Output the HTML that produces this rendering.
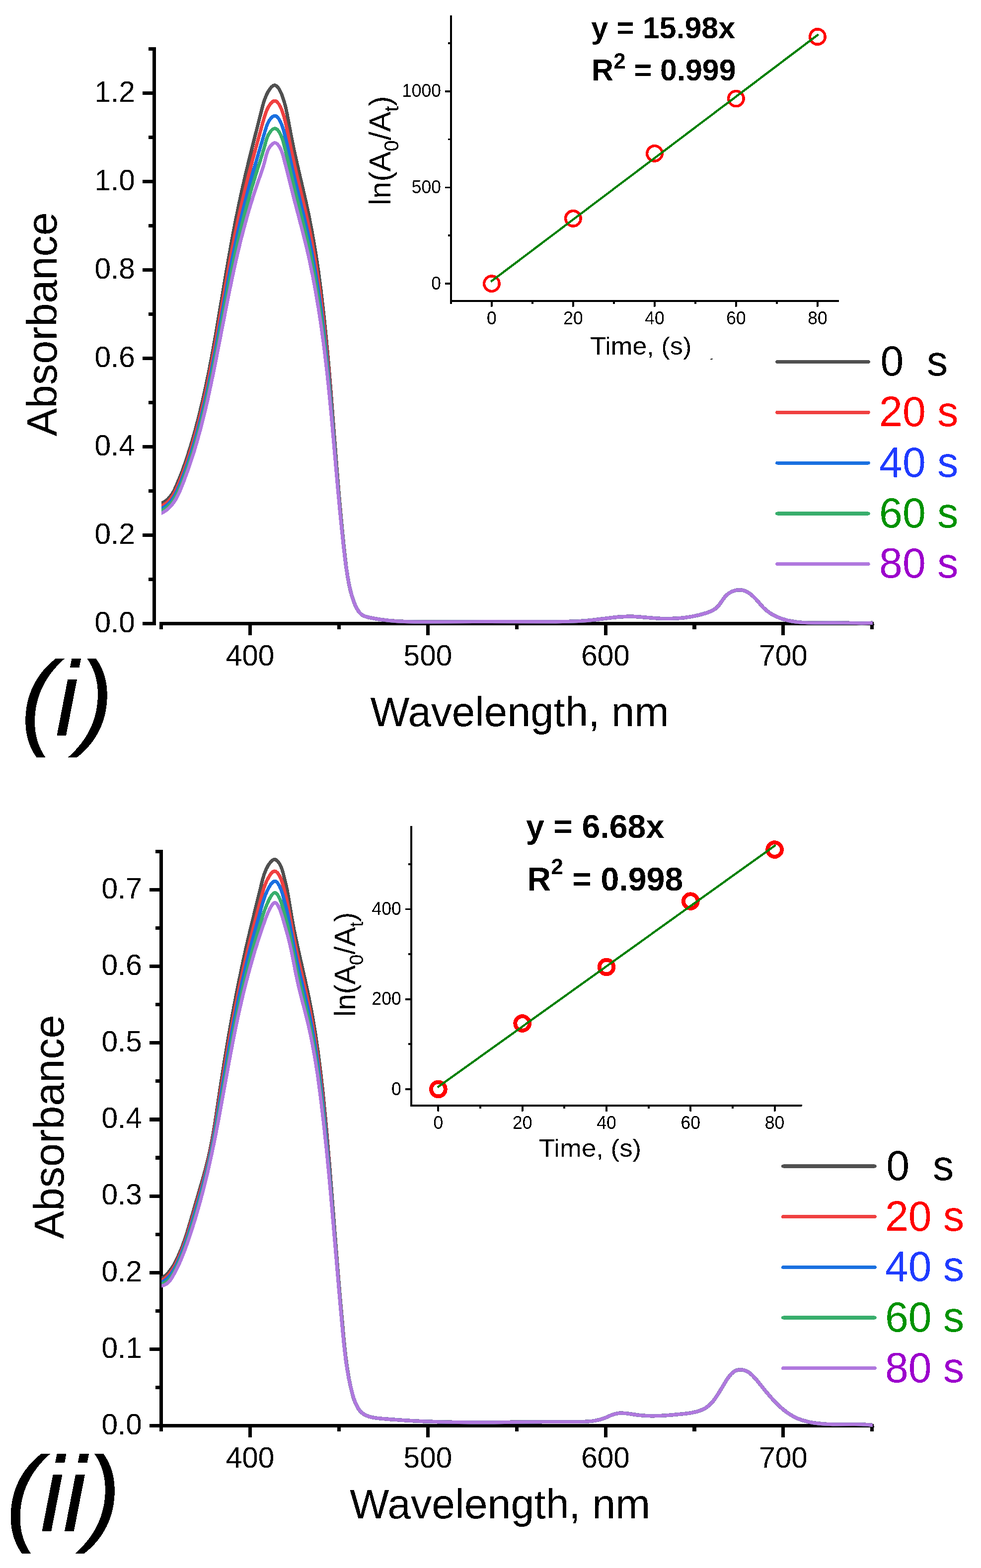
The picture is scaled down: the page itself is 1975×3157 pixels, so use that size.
<!DOCTYPE html><html><head><meta charset="utf-8"><title>Absorbance kinetics</title><style>html,body{margin:0;padding:0;background:#fff;}svg{display:block;}</style></head><body><svg xmlns="http://www.w3.org/2000/svg" width="1975" height="3157" viewBox="0 0 1975 3157" font-family="'Liberation Sans', Arial, Helvetica, sans-serif">
<rect x="0" y="0" width="1975" height="3157" fill="#fff"/>
<defs><filter id="aa" x="0" y="0" width="1975" height="3157" filterUnits="userSpaceOnUse" color-interpolation-filters="sRGB"><feComponentTransfer><feFuncA type="discrete" tableValues="0 1"/></feComponentTransfer></filter></defs>
<g filter="url(#aa)">
<rect x="307.1" y="95.1" width="7.0" height="1163.9" fill="#000"/>
<rect x="287.1" y="1252.0" width="23.5" height="7.0" fill="#000"/>
<text x="271.8" y="1272.8" font-size="58.5" text-anchor="end" font-weight="normal" font-style="normal" fill="#000" xml:space="preserve" >0.0</text>
<rect x="287.1" y="1074.0" width="23.5" height="7.0" fill="#000"/>
<text x="271.8" y="1094.8" font-size="58.5" text-anchor="end" font-weight="normal" font-style="normal" fill="#000" xml:space="preserve" >0.2</text>
<rect x="287.1" y="896.0" width="23.5" height="7.0" fill="#000"/>
<text x="271.8" y="916.8" font-size="58.5" text-anchor="end" font-weight="normal" font-style="normal" fill="#000" xml:space="preserve" >0.4</text>
<rect x="287.1" y="718.1" width="23.5" height="7.0" fill="#000"/>
<text x="271.8" y="738.9" font-size="58.5" text-anchor="end" font-weight="normal" font-style="normal" fill="#000" xml:space="preserve" >0.6</text>
<rect x="287.1" y="540.1" width="23.5" height="7.0" fill="#000"/>
<text x="271.8" y="560.9" font-size="58.5" text-anchor="end" font-weight="normal" font-style="normal" fill="#000" xml:space="preserve" >0.8</text>
<rect x="287.1" y="362.1" width="23.5" height="7.0" fill="#000"/>
<text x="271.8" y="382.9" font-size="58.5" text-anchor="end" font-weight="normal" font-style="normal" fill="#000" xml:space="preserve" >1.0</text>
<rect x="287.1" y="184.1" width="23.5" height="7.0" fill="#000"/>
<text x="271.8" y="204.9" font-size="58.5" text-anchor="end" font-weight="normal" font-style="normal" fill="#000" xml:space="preserve" >1.2</text>
<rect x="299.1" y="1163.0" width="11.5" height="7.0" fill="#000"/>
<rect x="299.1" y="985.0" width="11.5" height="7.0" fill="#000"/>
<rect x="299.1" y="807.0" width="11.5" height="7.0" fill="#000"/>
<rect x="299.1" y="629.1" width="11.5" height="7.0" fill="#000"/>
<rect x="299.1" y="451.1" width="11.5" height="7.0" fill="#000"/>
<rect x="299.1" y="273.1" width="11.5" height="7.0" fill="#000"/>
<rect x="299.1" y="95.1" width="11.5" height="7.0" fill="#000"/>
<rect x="321.1" y="1252.0" width="1438.2" height="7.0" fill="#000"/>
<rect x="500.1" y="1255.5" width="7.0" height="23.5" fill="#000"/>
<text x="503.6" y="1340.2" font-size="58.5" text-anchor="middle" font-weight="normal" font-style="normal" fill="#000" xml:space="preserve" >400</text>
<rect x="857.9" y="1255.5" width="7.0" height="23.5" fill="#000"/>
<text x="861.4" y="1340.2" font-size="58.5" text-anchor="middle" font-weight="normal" font-style="normal" fill="#000" xml:space="preserve" >500</text>
<rect x="1215.6" y="1255.5" width="7.0" height="23.5" fill="#000"/>
<text x="1219.1" y="1340.2" font-size="58.5" text-anchor="middle" font-weight="normal" font-style="normal" fill="#000" xml:space="preserve" >600</text>
<rect x="1573.4" y="1255.5" width="7.0" height="23.5" fill="#000"/>
<text x="1576.9" y="1340.2" font-size="58.5" text-anchor="middle" font-weight="normal" font-style="normal" fill="#000" xml:space="preserve" >700</text>
<rect x="321.1" y="1255.5" width="7.2" height="11.5" fill="#000"/>
<rect x="678.9" y="1255.5" width="7.2" height="11.5" fill="#000"/>
<rect x="1036.6" y="1255.5" width="7.2" height="11.5" fill="#000"/>
<rect x="1394.4" y="1255.5" width="7.2" height="11.5" fill="#000"/>
<rect x="1752.2" y="1255.5" width="7.2" height="11.5" fill="#000"/>
<clipPath id="cp1"><rect x="325.2" y="100" width="1431.8" height="1200"/></clipPath>
<g clip-path="url(#cp1)">
<path d="M319.5 1015.4L327.2 1012.1L330.3 1010.5L334.1 1008.1L337.7 1005.2L341.3 1001.5L344.6 997.2L347.8 992.3L350.9 986.6L355.0 977.6L361.1 963.0L366.6 949.0L371.8 934.6L376.8 919.9L381.7 904.6L386.6 888.4L391.6 871.1L399.4 841.7L406.8 811.1L414.1 778.6L421.2 744.0L427.5 711.0L434.1 674.0L457.5 535.5L467.8 477.9L473.6 447.3L479.7 417.4L486.2 386.9L493.2 356.0L500.0 327.5L507.1 298.8L528.7 213.8L531.6 203.6L534.1 196.8L536.9 190.2L539.9 184.4L543.0 179.5L545.9 175.8L548.7 173.3L550.0 172.5L551.3 171.9L552.6 171.7L553.8 171.8L555.0 172.1L556.3 172.8L558.8 175.1L561.5 178.7L564.1 183.5L567.0 189.9L569.8 197.5L572.3 205.4L574.6 213.8L578.5 231.8L586.5 275.0L592.1 302.3L598.7 331.9L614.5 399.7L621.6 432.2L628.4 467.3L634.7 503.8L640.7 542.9L646.2 584.6L651.5 629.5L656.6 679.4L660.8 723.9L665.0 773.1L678.3 944.0L683.8 1010.3L687.3 1048.5L691.1 1087.5L694.1 1116.3L696.7 1139.3L699.3 1157.5L702.1 1173.8L705.4 1188.6L709.0 1201.7L713.0 1213.3L715.2 1218.6L717.4 1223.3L719.6 1227.2L721.8 1230.7L724.2 1233.7L726.4 1236.0L728.8 1237.9L731.4 1239.4L734.3 1240.8L737.8 1241.9L742.1 1243.1L748.5 1244.4L763.5 1247.0L779.2 1249.0L795.7 1250.5L813.4 1251.5L833.1 1252.0L855.8 1252.1L979.2 1251.5L1119.0 1251.7L1146.1 1251.3L1164.8 1250.6L1181.9 1249.5L1196.5 1248.0L1225.5 1244.3L1238.6 1242.8L1252.2 1241.7L1264.5 1241.2L1273.6 1241.3L1283.6 1241.7L1317.9 1244.6L1331.3 1245.4L1346.6 1245.6L1361.6 1245.0L1371.1 1244.3L1380.6 1243.2L1389.8 1241.8L1399.0 1240.1L1408.4 1238.0L1417.7 1235.5L1425.0 1233.1L1430.9 1230.8L1435.0 1228.8L1438.6 1226.6L1441.9 1224.2L1444.8 1221.5L1446.8 1219.3L1448.9 1216.7L1455.8 1206.5L1458.7 1202.6L1462.3 1198.7L1466.3 1195.4L1469.0 1193.6L1471.7 1192.0L1474.5 1190.7L1477.4 1189.6L1480.4 1188.7L1483.3 1188.1L1486.2 1187.8L1489.2 1187.7L1494.7 1188.3L1497.3 1188.9L1500.0 1189.8L1505.3 1192.4L1510.7 1196.0L1515.5 1200.0L1520.5 1204.9L1525.1 1209.9L1534.1 1220.4L1538.7 1225.1L1544.6 1230.3L1551.3 1235.0L1559.0 1239.4L1567.3 1243.2L1576.1 1246.4L1585.5 1249.1L1594.6 1251.0L1604.4 1252.4L1615.0 1253.4L1626.6 1253.9L1640.7 1254.1L1678.6 1253.8L1734.4 1254.7L1748.2 1254.5L1762.7 1254.0" fill="none" stroke="#505050" stroke-width="6.9" stroke-linejoin="round"/>
<path d="M319.5 1021.0L327.3 1017.5L330.5 1015.8L334.5 1013.2L338.2 1010.2L341.8 1006.4L345.3 1002.0L348.6 997.0L351.8 991.2L356.1 982.1L361.1 970.6L366.0 958.4L371.3 944.2L376.4 929.6L381.3 914.6L386.2 898.8L391.1 882.2L398.8 854.1L406.3 824.4L413.5 793.2L420.6 759.4L426.9 727.5L433.6 691.7L457.2 556.8L467.5 501.1L473.3 471.5L479.3 442.7L485.6 414.2L492.3 385.8L500.5 352.4L509.3 318.8L529.3 245.6L534.2 229.7L536.4 223.7L538.6 218.6L541.2 213.9L543.9 209.8L546.5 206.6L549.1 204.4L551.6 203.2L552.8 203.0L553.9 203.1L555.1 203.4L556.4 204.1L559.0 206.5L561.7 210.0L564.4 214.9L567.0 220.8L569.4 227.5L571.8 235.2L574.3 244.7L578.5 263.1L586.7 303.7L592.3 329.6L598.3 355.5L613.1 417.3L620.3 449.5L627.7 486.0L634.5 524.1L640.6 562.9L646.3 603.9L651.6 648.0L656.9 696.9L661.1 740.5L665.3 788.6L678.7 954.6L684.2 1018.8L687.6 1054.8L691.2 1091.3L694.1 1117.8L696.7 1139.5L699.3 1157.9L702.3 1174.8L705.5 1189.3L709.1 1202.1L713.1 1213.6L715.4 1219.1L717.7 1223.8L719.9 1227.7L722.1 1231.1L724.4 1234.0L726.7 1236.2L729.1 1238.1L731.7 1239.6L734.7 1240.9L738.2 1242.1L742.6 1243.2L749.4 1244.6L764.4 1247.1L779.9 1249.1L796.3 1250.5L814.0 1251.5L833.5 1252.0L855.9 1252.1L978.8 1251.5L1119.1 1251.7L1146.1 1251.3L1164.8 1250.6L1181.9 1249.5L1196.5 1248.0L1225.5 1244.3L1238.6 1242.8L1252.2 1241.7L1264.5 1241.2L1273.6 1241.3L1283.6 1241.7L1317.9 1244.6L1331.3 1245.4L1346.6 1245.6L1361.7 1245.0L1371.3 1244.3L1380.6 1243.2L1389.9 1241.8L1399.0 1240.1L1408.4 1238.0L1417.7 1235.5L1425.0 1233.1L1430.9 1230.8L1435.0 1228.8L1438.6 1226.6L1441.9 1224.2L1444.8 1221.5L1446.8 1219.3L1448.9 1216.7L1455.8 1206.5L1458.7 1202.6L1462.3 1198.7L1466.3 1195.4L1469.0 1193.6L1471.7 1192.0L1474.5 1190.7L1477.4 1189.6L1480.4 1188.7L1483.3 1188.1L1486.2 1187.8L1489.2 1187.7L1494.7 1188.3L1497.3 1188.9L1500.0 1189.8L1505.3 1192.4L1510.7 1196.0L1515.5 1200.0L1520.5 1204.9L1525.1 1209.9L1534.1 1220.4L1538.7 1225.1L1544.6 1230.3L1551.3 1235.0L1559.0 1239.4L1567.3 1243.2L1576.1 1246.4L1585.5 1249.1L1594.6 1251.0L1604.4 1252.4L1615.0 1253.4L1626.6 1253.9L1640.7 1254.1L1678.6 1253.8L1734.4 1254.7L1748.2 1254.5L1762.7 1254.0" fill="none" stroke="#F04040" stroke-width="6.9" stroke-linejoin="round"/>
<path d="M319.5 1026.4L327.3 1022.7L330.7 1020.9L334.8 1018.1L338.6 1015.0L342.4 1011.1L346.0 1006.6L349.4 1001.6L352.8 995.6L357.0 987.2L361.3 977.5L365.6 966.8L370.8 953.2L375.9 938.9L380.9 924.1L385.8 908.9L390.7 892.9L398.3 865.8L405.7 837.3L412.9 807.1L420.0 774.7L426.3 743.8L433.0 708.9L456.8 577.8L467.1 523.7L473.0 495.0L478.9 467.3L485.1 440.3L491.5 413.7L499.7 381.5L508.4 349.9L529.9 276.4L536.3 255.1L538.1 250.4L540.1 246.2L542.5 242.1L544.9 238.7L547.3 236.1L549.6 234.3L551.8 233.4L554.0 233.2L555.2 233.6L556.5 234.2L559.1 236.5L561.7 240.0L564.3 244.7L566.8 250.1L569.0 256.2L571.0 262.8L573.7 272.9L578.6 293.4L587.0 332.2L592.6 356.7L611.6 434.2L618.8 464.8L622.9 483.9L626.9 503.5L630.7 523.4L634.4 543.9L640.6 582.5L646.4 623.1L651.9 666.9L657.2 714.7L661.5 757.4L665.8 804.6L679.2 965.3L684.6 1027.0L691.4 1094.9L694.1 1119.2L696.6 1139.3L699.4 1158.3L702.5 1175.5L705.7 1189.9L709.2 1202.4L713.3 1214.1L715.7 1219.7L717.9 1224.3L720.1 1228.1L722.3 1231.4L724.7 1234.3L727.0 1236.5L729.4 1238.3L732.0 1239.7L735.0 1241.0L738.6 1242.2L750.3 1244.8L765.4 1247.3L780.8 1249.2L797.0 1250.6L814.5 1251.5L833.9 1252.0L856.0 1252.1L978.4 1251.5L1119.1 1251.7L1146.1 1251.3L1164.8 1250.6L1181.9 1249.5L1196.5 1248.0L1225.5 1244.3L1238.6 1242.8L1252.2 1241.7L1264.5 1241.2L1273.5 1241.3L1283.5 1241.7L1318.0 1244.6L1331.4 1245.4L1346.7 1245.6L1361.9 1245.0L1371.4 1244.3L1380.8 1243.2L1390.0 1241.8L1399.1 1240.1L1408.6 1237.9L1417.9 1235.4L1425.1 1233.1L1431.0 1230.8L1435.0 1228.8L1438.6 1226.6L1441.9 1224.2L1444.8 1221.5L1446.8 1219.3L1448.9 1216.7L1455.8 1206.5L1458.7 1202.6L1462.3 1198.7L1466.3 1195.4L1469.0 1193.6L1471.7 1192.0L1474.5 1190.7L1477.4 1189.6L1480.4 1188.7L1483.3 1188.1L1486.2 1187.8L1489.2 1187.7L1494.7 1188.3L1497.3 1188.9L1500.0 1189.8L1505.3 1192.4L1510.7 1196.0L1515.5 1200.0L1520.5 1204.9L1525.1 1209.9L1534.1 1220.4L1538.7 1225.1L1544.6 1230.3L1551.3 1235.0L1559.0 1239.4L1567.3 1243.2L1576.1 1246.4L1585.5 1249.1L1594.6 1251.0L1604.4 1252.4L1615.0 1253.4L1626.6 1253.9L1640.7 1254.1L1678.6 1253.8L1734.4 1254.7L1748.2 1254.5L1762.7 1254.0" fill="none" stroke="#1A70E0" stroke-width="6.9" stroke-linejoin="round"/>
<path d="M319.5 1031.0L327.4 1027.1L330.9 1025.2L335.1 1022.3L339.1 1019.0L343.0 1014.9L346.7 1010.4L350.2 1005.3L353.7 999.3L357.6 991.8L361.5 983.2L365.5 973.6L370.4 960.7L375.6 946.5L380.6 932.1L385.5 917.2L390.3 901.9L397.9 875.8L405.2 848.1L412.4 818.8L419.4 787.4L425.7 757.6L432.4 723.8L456.4 595.7L466.8 542.8L472.8 514.3L478.7 487.6L484.7 461.7L490.9 436.8L498.7 407.3L506.8 378.7L514.8 352.2L527.7 311.4L532.2 296.3L535.7 283.5L537.2 278.9L538.9 274.6L540.8 270.6L543.1 266.9L545.4 263.7L547.7 261.3L549.9 259.7L552.0 258.9L554.1 258.8L556.3 259.6L558.5 261.3L560.8 264.0L563.1 267.6L565.4 272.1L567.4 277.0L569.3 282.5L571.1 288.9L578.6 318.4L593.4 381.6L610.2 448.0L617.0 476.2L621.7 496.8L626.0 517.5L630.2 538.8L634.2 560.6L640.6 599.0L646.6 639.5L652.2 682.8L657.5 729.6L661.8 771.0L666.1 817.4L679.6 974.3L685.0 1033.8L691.5 1097.7L694.1 1120.4L696.5 1139.5L699.4 1158.7L702.6 1176.3L705.8 1190.4L709.2 1202.6L713.4 1214.4L715.8 1220.0L718.1 1224.6L720.2 1228.4L722.5 1231.6L724.8 1234.4L727.2 1236.7L729.6 1238.4L732.2 1239.8L735.3 1241.1L738.9 1242.3L751.0 1244.9L765.9 1247.4L781.2 1249.2L797.5 1250.6L814.9 1251.5L834.2 1252.0L856.1 1252.1L978.1 1251.5L1119.1 1251.7L1146.2 1251.3L1164.9 1250.6L1181.9 1249.5L1196.5 1248.0L1225.5 1244.3L1238.6 1242.8L1252.2 1241.7L1264.5 1241.2L1273.5 1241.3L1283.5 1241.7L1318.0 1244.6L1331.4 1245.4L1346.7 1245.6L1361.9 1245.0L1371.4 1244.3L1380.8 1243.2L1390.0 1241.8L1399.1 1240.1L1408.6 1237.9L1417.9 1235.4L1425.1 1233.1L1431.0 1230.8L1435.0 1228.8L1438.6 1226.6L1441.9 1224.2L1444.8 1221.5L1446.8 1219.3L1448.9 1216.7L1455.8 1206.5L1458.7 1202.6L1462.3 1198.7L1466.3 1195.4L1469.0 1193.6L1471.7 1192.0L1474.5 1190.7L1477.4 1189.6L1480.4 1188.7L1483.3 1188.1L1486.2 1187.8L1489.2 1187.7L1494.7 1188.3L1497.3 1188.9L1500.0 1189.8L1505.3 1192.4L1510.7 1196.0L1515.5 1200.0L1520.5 1204.9L1525.1 1209.9L1534.1 1220.4L1538.7 1225.1L1544.6 1230.3L1551.3 1235.0L1559.0 1239.4L1567.3 1243.2L1576.1 1246.4L1585.5 1249.1L1594.6 1251.0L1604.4 1252.4L1615.0 1253.4L1626.6 1253.9L1640.7 1254.1L1678.6 1253.8L1734.4 1254.7L1748.2 1254.5L1762.7 1254.0" fill="none" stroke="#38AE6C" stroke-width="6.9" stroke-linejoin="round"/>
<path d="M319.5 1036.2L327.4 1032.2L331.1 1030.0L335.4 1027.0L339.5 1023.6L343.6 1019.4L347.5 1014.8L351.2 1009.6L354.8 1003.7L358.2 997.2L361.7 989.7L365.3 981.2L370.0 969.2L380.3 941.1L389.8 912.3L397.3 887.1L404.6 860.7L411.6 832.7L418.7 802.4L424.8 774.0L431.5 741.6L455.9 616.5L466.4 564.6L472.4 536.8L478.3 510.8L484.2 486.3L490.2 462.8L497.5 436.1L505.0 410.6L514.3 381.4L529.2 338.1L532.4 327.0L536.1 312.2L537.9 306.5L539.6 302.5L541.5 298.7L543.6 295.3L545.9 292.3L548.1 290.1L550.2 288.6L552.3 287.8L554.2 287.8L556.3 288.5L558.4 290.1L560.6 292.5L562.7 295.6L564.8 299.5L566.7 303.9L568.5 308.7L570.1 314.1L581.2 357.2L593.7 407.2L608.9 465.2L615.5 491.6L620.5 512.8L625.2 534.6L629.7 556.8L634.0 579.5L640.6 617.9L646.8 658.3L652.5 700.8L657.9 746.4L662.2 786.9L666.6 832.3L680.0 984.2L685.4 1041.4L691.6 1100.7L694.0 1121.4L696.4 1139.0L699.5 1159.1L702.8 1177.0L705.9 1190.8L709.3 1202.8L711.3 1208.9L713.6 1214.8L716.0 1220.4L718.2 1224.9L720.4 1228.7L722.7 1231.9L725.0 1234.6L727.5 1236.9L729.9 1238.6L732.6 1240.0L735.6 1241.2L739.3 1242.4L751.7 1245.0L766.7 1247.5L781.9 1249.3L798.0 1250.7L815.3 1251.5L834.5 1252.0L856.2 1252.1L977.8 1251.5L1119.2 1251.7L1146.2 1251.3L1164.9 1250.6L1181.9 1249.5L1196.5 1248.0L1225.5 1244.3L1238.6 1242.8L1252.2 1241.7L1264.5 1241.2L1273.5 1241.3L1283.5 1241.7L1318.0 1244.6L1331.4 1245.4L1346.8 1245.6L1362.0 1245.0L1371.6 1244.2L1381.0 1243.2L1390.2 1241.8L1399.3 1240.0L1408.7 1237.9L1418.0 1235.4L1425.2 1233.1L1431.0 1230.8L1435.0 1228.8L1438.6 1226.6L1441.9 1224.2L1444.8 1221.5L1446.8 1219.3L1448.9 1216.7L1455.8 1206.5L1458.7 1202.6L1462.3 1198.7L1466.3 1195.4L1469.0 1193.6L1471.7 1192.0L1474.5 1190.7L1477.4 1189.6L1480.4 1188.7L1483.3 1188.1L1486.2 1187.8L1489.2 1187.7L1494.7 1188.3L1497.3 1188.9L1500.0 1189.8L1505.3 1192.4L1510.7 1196.0L1515.5 1200.0L1520.5 1204.9L1525.1 1209.9L1534.1 1220.4L1538.7 1225.1L1544.6 1230.3L1551.3 1235.0L1559.0 1239.4L1567.3 1243.2L1576.1 1246.4L1585.5 1249.1L1594.6 1251.0L1604.4 1252.4L1615.0 1253.4L1626.6 1253.9L1640.7 1254.1L1678.6 1253.8L1734.4 1254.7L1748.2 1254.5L1762.7 1254.0" fill="none" stroke="#B078DE" stroke-width="6.9" stroke-linejoin="round"/>
</g>
<line x1="1564.6" y1="728.4" x2="1748.2" y2="728.4" stroke="#505050" stroke-width="6.9" stroke-linecap="round"/>
<text transform="translate(1772.5,756.2) scale(1.0,1.02)" x="0" y="0" font-size="84.2" text-anchor="start" font-weight="normal" font-style="normal" fill="#000000" xml:space="preserve" >0  s</text>
<line x1="1564.6" y1="830.3" x2="1748.2" y2="830.3" stroke="#F04040" stroke-width="6.9" stroke-linecap="round"/>
<text transform="translate(1770.1,858.1) scale(1.0,1.02)" x="0" y="0" font-size="84.2" text-anchor="start" font-weight="normal" font-style="normal" fill="#FF0000" xml:space="preserve" >20 s</text>
<line x1="1564.6" y1="932.1" x2="1748.2" y2="932.1" stroke="#1A70E0" stroke-width="6.9" stroke-linecap="round"/>
<text transform="translate(1770.1,959.9) scale(1.0,1.02)" x="0" y="0" font-size="84.2" text-anchor="start" font-weight="normal" font-style="normal" fill="#1F3BFF" xml:space="preserve" >40 s</text>
<line x1="1564.6" y1="1034.0" x2="1748.2" y2="1034.0" stroke="#38AE6C" stroke-width="6.9" stroke-linecap="round"/>
<text transform="translate(1770.1,1061.8) scale(1.0,1.02)" x="0" y="0" font-size="84.2" text-anchor="start" font-weight="normal" font-style="normal" fill="#009200" xml:space="preserve" >60 s</text>
<line x1="1564.6" y1="1135.6" x2="1748.2" y2="1135.6" stroke="#B078DE" stroke-width="6.9" stroke-linecap="round"/>
<text transform="translate(1770.1,1163.4) scale(1.0,1.02)" x="0" y="0" font-size="84.2" text-anchor="start" font-weight="normal" font-style="normal" fill="#9C00CC" xml:space="preserve" >80 s</text>
<rect x="906.0" y="30.9" width="4.0" height="576.6" fill="#000"/>
<rect x="906.0" y="603.8" width="783.2" height="3.7" fill="#000"/>
<rect x="896.0" y="569.4" width="12.0" height="3.6" fill="#000"/>
<text transform="translate(887.9,582.5) scale(1.0,1.03)" x="0" y="0" font-size="35.4" text-anchor="end" font-weight="normal" font-style="normal" fill="#000" xml:space="preserve" >0</text>
<rect x="896.0" y="375.7" width="12.0" height="3.6" fill="#000"/>
<text transform="translate(887.9,388.8) scale(1.0,1.03)" x="0" y="0" font-size="35.4" text-anchor="end" font-weight="normal" font-style="normal" fill="#000" xml:space="preserve" >500</text>
<rect x="896.0" y="181.9" width="12.0" height="3.6" fill="#000"/>
<text transform="translate(887.9,195.0) scale(1.0,1.03)" x="0" y="0" font-size="35.4" text-anchor="end" font-weight="normal" font-style="normal" fill="#000" xml:space="preserve" >1000</text>
<rect x="902.0" y="472.5" width="6.0" height="3.6" fill="#000"/>
<rect x="902.0" y="278.8" width="6.0" height="3.6" fill="#000"/>
<rect x="902.0" y="85.0" width="6.0" height="3.6" fill="#000"/>
<rect x="987.9" y="605.5" width="4.0" height="12.0" fill="#000"/>
<text transform="translate(989.9,652.5) scale(1.0,1.03)" x="0" y="0" font-size="35.4" text-anchor="middle" font-weight="normal" font-style="normal" fill="#000" xml:space="preserve" >0</text>
<rect x="1151.9" y="605.5" width="4.0" height="12.0" fill="#000"/>
<text transform="translate(1153.9,652.5) scale(1.0,1.03)" x="0" y="0" font-size="35.4" text-anchor="middle" font-weight="normal" font-style="normal" fill="#000" xml:space="preserve" >20</text>
<rect x="1315.9" y="605.5" width="4.0" height="12.0" fill="#000"/>
<text transform="translate(1317.9,652.5) scale(1.0,1.03)" x="0" y="0" font-size="35.4" text-anchor="middle" font-weight="normal" font-style="normal" fill="#000" xml:space="preserve" >40</text>
<rect x="1479.9" y="605.5" width="4.0" height="12.0" fill="#000"/>
<text transform="translate(1481.9,652.5) scale(1.0,1.03)" x="0" y="0" font-size="35.4" text-anchor="middle" font-weight="normal" font-style="normal" fill="#000" xml:space="preserve" >60</text>
<rect x="1643.9" y="605.5" width="4.0" height="12.0" fill="#000"/>
<text transform="translate(1645.9,652.5) scale(1.0,1.03)" x="0" y="0" font-size="35.4" text-anchor="middle" font-weight="normal" font-style="normal" fill="#000" xml:space="preserve" >80</text>
<rect x="906.1" y="605.5" width="3.6" height="6.4" fill="#000"/>
<rect x="1070.1" y="605.5" width="3.6" height="6.4" fill="#000"/>
<rect x="1234.1" y="605.5" width="3.6" height="6.4" fill="#000"/>
<rect x="1398.1" y="605.5" width="3.6" height="6.4" fill="#000"/>
<rect x="1562.1" y="605.5" width="3.6" height="6.4" fill="#000"/>
<circle cx="989.9" cy="571.1" r="15.25" fill="none" stroke="#FF0000" stroke-width="5.4"/>
<circle cx="1153.9" cy="439.8" r="15.25" fill="none" stroke="#FF0000" stroke-width="5.4"/>
<circle cx="1317.9" cy="308.9" r="15.25" fill="none" stroke="#FF0000" stroke-width="5.4"/>
<circle cx="1481.9" cy="198.6" r="15.25" fill="none" stroke="#FF0000" stroke-width="5.4"/>
<circle cx="1645.9" cy="74.0" r="15.25" fill="none" stroke="#FF0000" stroke-width="5.4"/>
<line x1="989.9" y1="565.8" x2="1645.9" y2="70.6" stroke="#008000" stroke-width="4.3" stroke-linecap="square"/>
<text transform="translate(1188.2,714.1) scale(1.045,1.0)" x="0" y="0" font-size="50.0" text-anchor="start" font-weight="normal" font-style="normal" fill="#000" xml:space="preserve" >Time, (s)</text>
<text x="1190.2" y="77.2" font-size="61" text-anchor="start" font-weight="bold" font-style="normal" fill="#000" xml:space="preserve" >y = 15.98x</text>
<text x="1191.1" y="161.9" font-size="61" font-weight="bold" fill="#000" xml:space="preserve">R<tspan font-size="43.8" dy="-24.0">2</tspan><tspan dy="24.0"> = 0.999</tspan></text>
<text transform="translate(785.7,413.2) rotate(-90) scale(1.0,1)" x="0" y="0" font-size="61" fill="#000" xml:space="preserve">ln(A<tspan font-size="40.3" dy="16.5">0</tspan><tspan dy="-16.5">/A</tspan><tspan font-size="40.3" dy="16.5">t</tspan><tspan dy="-16.5">)</tspan></text>
<text x="745.6" y="1461.6" font-size="83.65" text-anchor="start" font-weight="normal" font-style="normal" fill="#000" xml:space="preserve" >Wavelength, nm</text>
<text transform="translate(113.8,878.3) rotate(-90)" x="0" y="0" font-size="84.5" fill="#000">Absorbance</text>
<text x="41.2" y="1481.0" font-size="213" text-anchor="start" font-weight="normal" font-style="italic" fill="#000" xml:space="preserve" letter-spacing="-1" >(i)</text>
<rect x="320.9" y="1710.9" width="7.0" height="1171.2" fill="#000"/>
<rect x="300.9" y="2867.1" width="23.5" height="7.0" fill="#000"/>
<text x="285.8" y="2887.9" font-size="58.5" text-anchor="end" font-weight="normal" font-style="normal" fill="#000" xml:space="preserve" >0.0</text>
<rect x="300.9" y="2712.9" width="23.5" height="7.0" fill="#000"/>
<text x="285.8" y="2733.7" font-size="58.5" text-anchor="end" font-weight="normal" font-style="normal" fill="#000" xml:space="preserve" >0.1</text>
<rect x="300.9" y="2558.8" width="23.5" height="7.0" fill="#000"/>
<text x="285.8" y="2579.6" font-size="58.5" text-anchor="end" font-weight="normal" font-style="normal" fill="#000" xml:space="preserve" >0.2</text>
<rect x="300.9" y="2404.6" width="23.5" height="7.0" fill="#000"/>
<text x="285.8" y="2425.4" font-size="58.5" text-anchor="end" font-weight="normal" font-style="normal" fill="#000" xml:space="preserve" >0.3</text>
<rect x="300.9" y="2250.5" width="23.5" height="7.0" fill="#000"/>
<text x="285.8" y="2271.3" font-size="58.5" text-anchor="end" font-weight="normal" font-style="normal" fill="#000" xml:space="preserve" >0.4</text>
<rect x="300.9" y="2096.3" width="23.5" height="7.0" fill="#000"/>
<text x="285.8" y="2117.1" font-size="58.5" text-anchor="end" font-weight="normal" font-style="normal" fill="#000" xml:space="preserve" >0.5</text>
<rect x="300.9" y="1942.1" width="23.5" height="7.0" fill="#000"/>
<text x="285.8" y="1962.9" font-size="58.5" text-anchor="end" font-weight="normal" font-style="normal" fill="#000" xml:space="preserve" >0.6</text>
<rect x="300.9" y="1788.0" width="23.5" height="7.0" fill="#000"/>
<text x="285.8" y="1808.8" font-size="58.5" text-anchor="end" font-weight="normal" font-style="normal" fill="#000" xml:space="preserve" >0.7</text>
<rect x="312.9" y="2790.0" width="11.5" height="7.0" fill="#000"/>
<rect x="312.9" y="2635.9" width="11.5" height="7.0" fill="#000"/>
<rect x="312.9" y="2481.7" width="11.5" height="7.0" fill="#000"/>
<rect x="312.9" y="2327.5" width="11.5" height="7.0" fill="#000"/>
<rect x="312.9" y="2173.4" width="11.5" height="7.0" fill="#000"/>
<rect x="312.9" y="2019.2" width="11.5" height="7.0" fill="#000"/>
<rect x="312.9" y="1865.1" width="11.5" height="7.0" fill="#000"/>
<rect x="312.9" y="1710.9" width="11.5" height="7.0" fill="#000"/>
<rect x="321.1" y="2867.1" width="1438.2" height="7.0" fill="#000"/>
<rect x="500.1" y="2870.6" width="7.0" height="23.5" fill="#000"/>
<text x="503.6" y="2955.3" font-size="58.5" text-anchor="middle" font-weight="normal" font-style="normal" fill="#000" xml:space="preserve" >400</text>
<rect x="857.9" y="2870.6" width="7.0" height="23.5" fill="#000"/>
<text x="861.4" y="2955.3" font-size="58.5" text-anchor="middle" font-weight="normal" font-style="normal" fill="#000" xml:space="preserve" >500</text>
<rect x="1215.6" y="2870.6" width="7.0" height="23.5" fill="#000"/>
<text x="1219.1" y="2955.3" font-size="58.5" text-anchor="middle" font-weight="normal" font-style="normal" fill="#000" xml:space="preserve" >600</text>
<rect x="1573.4" y="2870.6" width="7.0" height="23.5" fill="#000"/>
<text x="1576.9" y="2955.3" font-size="58.5" text-anchor="middle" font-weight="normal" font-style="normal" fill="#000" xml:space="preserve" >700</text>
<rect x="321.1" y="2870.6" width="7.2" height="11.5" fill="#000"/>
<rect x="678.9" y="2870.6" width="7.2" height="11.5" fill="#000"/>
<rect x="1036.6" y="2870.6" width="7.2" height="11.5" fill="#000"/>
<rect x="1394.4" y="2870.6" width="7.2" height="11.5" fill="#000"/>
<rect x="1752.2" y="2870.6" width="7.2" height="11.5" fill="#000"/>
<clipPath id="cp2"><rect x="325.2" y="1700" width="1431.8" height="1200"/></clipPath>
<g clip-path="url(#cp2)">
<path d="M319.5 2578.0L327.9 2572.2L332.6 2568.4L337.7 2563.4L342.6 2557.6L347.3 2550.9L351.8 2543.2L356.3 2534.3L361.2 2523.4L365.4 2513.3L369.4 2502.6L373.4 2491.0L377.5 2478.5L383.1 2459.8L410.4 2365.7L415.4 2346.7L419.6 2329.6L423.4 2312.5L427.0 2294.1L430.1 2276.6L433.3 2256.9L444.0 2185.8L450.7 2143.0L456.8 2105.9L462.9 2070.3L470.6 2028.4L478.4 1987.9L486.5 1948.8L494.8 1910.6L500.8 1884.8L506.9 1859.2L520.5 1804.4L528.0 1773.3L531.4 1761.5L533.8 1754.8L536.4 1748.9L539.4 1743.3L542.9 1738.1L545.8 1734.4L548.6 1732.0L549.9 1731.2L551.2 1730.7L552.5 1730.5L553.7 1730.6L555.1 1731.1L556.7 1732.0L558.3 1733.3L559.8 1734.9L562.9 1739.3L565.6 1744.5L567.5 1749.2L569.2 1754.9L575.6 1780.4L577.9 1790.8L580.1 1802.3L587.6 1847.7L592.2 1872.5L599.1 1905.5L615.0 1976.1L621.7 2007.0L628.7 2043.5L635.1 2081.8L640.5 2118.8L645.5 2158.3L650.3 2200.7L655.0 2248.7L659.4 2297.5L664.1 2352.8L678.6 2538.1L684.4 2608.3L692.0 2693.4L694.2 2715.0L696.2 2733.2L699.1 2754.9L702.3 2774.5L706.1 2793.2L709.9 2808.9L711.6 2814.6L713.5 2819.9L715.5 2824.9L717.9 2829.9L720.1 2834.0L722.3 2837.5L724.8 2840.7L727.1 2843.1L730.3 2845.8L733.8 2848.1L737.7 2850.1L742.0 2851.7L746.7 2853.1L752.0 2854.2L757.9 2855.1L765.2 2855.9L785.7 2857.7L806.9 2859.2L828.3 2860.5L850.2 2861.6L895.7 2863.1L944.2 2863.8L993.5 2863.7L1102.8 2862.6L1163.6 2862.6L1176.3 2862.4L1184.5 2861.9L1192.0 2861.1L1199.0 2860.1L1205.7 2858.7L1211.4 2857.1L1216.8 2855.3L1231.1 2849.2L1236.1 2847.4L1241.3 2846.0L1246.8 2845.2L1252.2 2845.1L1258.0 2845.4L1264.3 2846.1L1280.2 2848.5L1289.1 2849.6L1300.3 2850.4L1312.0 2850.8L1325.0 2850.6L1339.5 2849.9L1356.4 2848.6L1377.9 2846.5L1386.5 2845.4L1393.9 2844.1L1400.4 2842.7L1406.4 2841.1L1411.7 2839.2L1416.6 2836.9L1421.0 2834.4L1425.2 2831.5L1428.9 2828.3L1432.6 2824.6L1436.2 2820.4L1439.8 2815.6L1446.3 2805.9L1462.2 2779.5L1466.4 2773.3L1470.4 2768.3L1472.9 2765.7L1475.4 2763.5L1477.9 2761.6L1480.4 2760.2L1483.0 2759.0L1485.6 2758.2L1488.2 2757.8L1491.0 2757.7L1493.6 2757.9L1496.4 2758.4L1499.0 2759.1L1501.8 2760.1L1506.8 2762.8L1511.7 2766.4L1516.3 2770.8L1522.0 2777.0L1541.6 2801.2L1552.0 2813.3L1560.3 2822.3L1568.1 2830.1L1573.0 2834.6L1577.9 2838.7L1582.7 2842.5L1587.5 2845.9L1592.2 2848.9L1596.9 2851.6L1601.7 2854.0L1606.7 2856.3L1611.7 2858.2L1616.8 2859.9L1627.6 2862.8L1639.4 2865.0L1652.3 2866.5L1663.9 2867.3L1676.8 2867.7L1719.4 2867.6L1734.4 2867.8L1748.4 2868.6L1762.5 2870.1" fill="none" stroke="#505050" stroke-width="6.9" stroke-linejoin="round"/>
<path d="M319.5 2581.3L327.7 2576.6L332.0 2573.8L336.7 2569.7L341.0 2565.0L345.4 2559.2L349.9 2551.8L354.5 2543.3L359.2 2533.4L363.7 2522.9L368.1 2511.8L372.5 2499.8L376.9 2486.7L385.3 2459.2L405.2 2391.5L411.9 2366.9L417.5 2344.9L422.2 2324.7L426.6 2303.2L430.0 2284.7L433.6 2263.7L446.0 2185.9L453.7 2139.4L459.6 2104.7L465.4 2072.5L472.6 2034.3L479.9 1997.8L487.4 1962.5L495.1 1928.3L502.1 1899.2L509.4 1870.3L527.7 1800.1L531.5 1787.5L534.1 1780.2L537.0 1773.7L540.1 1767.6L543.6 1761.9L546.4 1758.1L549.0 1755.6L550.3 1754.7L551.5 1754.2L552.7 1754.0L553.8 1754.1L555.2 1754.6L556.6 1755.5L558.1 1756.8L559.6 1758.5L562.6 1763.1L565.4 1769.0L567.3 1774.1L569.2 1780.1L576.3 1807.6L580.6 1828.0L589.5 1877.4L596.4 1912.5L602.5 1939.9L617.2 2002.9L623.5 2032.1L629.3 2062.4L634.7 2094.2L640.1 2130.8L645.3 2170.8L650.4 2215.1L655.4 2265.0L659.9 2313.7L664.6 2367.7L679.3 2551.0L685.1 2620.3L692.1 2696.7L694.1 2716.9L696.1 2733.8L699.0 2755.0L702.2 2774.4L706.1 2793.3L710.1 2809.2L711.9 2815.1L713.8 2820.4L715.9 2825.5L718.3 2830.6L720.4 2834.5L722.6 2837.9L725.0 2840.9L727.4 2843.4L730.6 2846.0L734.1 2848.3L738.1 2850.3L742.5 2851.9L747.2 2853.2L752.5 2854.3L758.5 2855.2L766.0 2856.0L786.6 2857.8L807.8 2859.3L829.3 2860.6L851.4 2861.7L896.9 2863.2L945.7 2863.8L994.2 2863.7L1102.5 2862.6L1163.6 2862.6L1176.4 2862.4L1184.5 2861.9L1192.0 2861.1L1199.0 2860.1L1205.7 2858.7L1211.4 2857.1L1216.8 2855.3L1231.1 2849.2L1236.1 2847.4L1241.3 2846.0L1246.8 2845.2L1252.1 2845.1L1258.0 2845.4L1264.3 2846.1L1280.2 2848.5L1289.2 2849.6L1300.4 2850.4L1312.0 2850.8L1325.2 2850.6L1339.6 2849.9L1356.6 2848.5L1378.1 2846.4L1386.7 2845.3L1394.0 2844.1L1400.6 2842.7L1406.5 2841.0L1411.9 2839.1L1416.8 2836.9L1421.1 2834.4L1425.3 2831.4L1429.0 2828.2L1432.7 2824.5L1436.3 2820.3L1439.9 2815.6L1446.3 2805.9L1462.2 2779.5L1466.4 2773.3L1470.4 2768.3L1472.9 2765.7L1475.4 2763.5L1477.9 2761.6L1480.4 2760.2L1483.0 2759.0L1485.6 2758.2L1488.2 2757.8L1491.0 2757.7L1493.6 2757.9L1496.4 2758.4L1499.0 2759.1L1501.8 2760.1L1506.8 2762.8L1511.7 2766.4L1516.3 2770.8L1522.0 2777.0L1541.6 2801.2L1552.0 2813.3L1560.3 2822.3L1568.1 2830.1L1573.0 2834.6L1577.9 2838.7L1582.7 2842.5L1587.5 2845.9L1592.2 2848.9L1596.9 2851.6L1601.7 2854.0L1606.7 2856.3L1611.7 2858.2L1616.8 2859.9L1627.6 2862.8L1639.4 2865.0L1652.3 2866.5L1663.9 2867.3L1676.8 2867.7L1719.4 2867.6L1734.4 2867.8L1748.4 2868.6L1762.5 2870.1" fill="none" stroke="#F04040" stroke-width="6.9" stroke-linejoin="round"/>
<path d="M319.5 2584.1L327.5 2580.4L331.3 2578.3L335.7 2575.0L339.7 2571.1L343.6 2566.4L347.5 2560.4L352.2 2552.3L356.8 2543.2L361.5 2532.9L366.0 2522.0L370.5 2510.2L375.1 2497.2L379.8 2483.1L384.9 2466.8L399.7 2417.0L407.9 2387.8L414.9 2361.0L420.8 2336.5L426.1 2311.7L429.8 2292.6L433.6 2271.6L454.6 2146.5L461.2 2108.9L467.4 2075.1L474.2 2040.3L481.0 2007.0L488.0 1974.9L495.3 1943.8L503.0 1912.7L511.2 1881.6L527.3 1823.3L531.7 1809.3L534.5 1801.6L537.5 1794.7L540.8 1788.0L544.1 1782.1L546.9 1778.2L549.4 1775.7L551.7 1774.3L552.8 1774.0L553.9 1774.1L555.2 1774.5L556.6 1775.5L558.0 1776.8L559.4 1778.5L562.3 1783.3L565.2 1789.7L567.2 1795.3L569.2 1801.6L577.1 1831.5L581.9 1853.4L592.4 1908.9L598.2 1937.3L603.7 1961.3L617.2 2017.7L623.2 2044.7L629.0 2074.2L634.4 2105.1L639.9 2141.8L645.2 2182.1L650.6 2228.3L655.8 2279.2L660.4 2327.6L665.1 2381.0L680.0 2563.0L685.9 2631.6L692.1 2699.6L694.1 2718.4L696.0 2734.6L698.9 2755.3L702.1 2774.2L706.2 2793.4L710.3 2809.6L712.1 2815.4L714.0 2820.9L716.2 2826.0L718.6 2831.1L720.7 2835.0L722.8 2838.2L725.1 2841.0L727.6 2843.6L730.8 2846.2L734.4 2848.4L738.4 2850.4L742.8 2852.0L747.6 2853.3L752.9 2854.4L758.9 2855.3L766.6 2856.1L787.4 2857.8L808.5 2859.3L830.1 2860.6L852.0 2861.7L897.6 2863.2L946.5 2863.8L994.6 2863.7L1102.2 2862.6L1163.6 2862.6L1176.4 2862.4L1184.5 2861.9L1192.0 2861.1L1199.0 2860.1L1205.7 2858.7L1211.4 2857.1L1216.8 2855.3L1231.1 2849.2L1236.1 2847.4L1241.3 2846.0L1246.8 2845.2L1252.1 2845.1L1258.0 2845.4L1264.3 2846.1L1280.2 2848.5L1289.2 2849.6L1300.4 2850.4L1312.0 2850.8L1325.2 2850.6L1339.6 2849.9L1356.6 2848.5L1378.1 2846.4L1386.7 2845.3L1394.0 2844.1L1400.6 2842.7L1406.5 2841.0L1411.9 2839.1L1416.8 2836.9L1421.1 2834.4L1425.3 2831.4L1429.0 2828.2L1432.7 2824.5L1436.3 2820.3L1439.9 2815.6L1446.3 2805.9L1462.2 2779.5L1466.4 2773.3L1470.4 2768.3L1472.9 2765.7L1475.4 2763.5L1477.9 2761.6L1480.4 2760.2L1483.0 2759.0L1485.6 2758.2L1488.2 2757.8L1491.0 2757.7L1493.6 2757.9L1496.4 2758.4L1499.0 2759.1L1501.8 2760.1L1506.8 2762.8L1511.7 2766.4L1516.3 2770.8L1522.0 2777.0L1541.6 2801.2L1552.0 2813.3L1560.3 2822.3L1568.1 2830.1L1573.0 2834.6L1577.9 2838.7L1582.7 2842.5L1587.5 2845.9L1592.2 2848.9L1596.9 2851.6L1601.7 2854.0L1606.7 2856.3L1611.7 2858.2L1616.8 2859.9L1627.6 2862.8L1639.4 2865.0L1652.3 2866.5L1663.9 2867.3L1676.8 2867.7L1719.4 2867.6L1734.4 2867.8L1748.4 2868.6L1762.5 2870.1" fill="none" stroke="#1A70E0" stroke-width="6.9" stroke-linejoin="round"/>
<path d="M319.5 2587.5L327.2 2584.8L330.7 2583.3L334.8 2580.8L338.5 2577.7L342.0 2573.9L345.4 2569.2L349.4 2562.5L353.9 2554.3L358.6 2544.6L363.4 2534.0L368.0 2522.7L372.6 2510.4L377.6 2496.2L383.0 2479.8L394.9 2441.2L403.9 2410.0L412.0 2379.5L419.2 2349.7L425.8 2320.0L430.6 2296.0L435.6 2269.4L458.7 2138.4L469.5 2080.3L475.7 2049.3L482.0 2019.9L488.4 1991.5L495.0 1963.9L503.4 1931.2L512.3 1898.9L524.5 1857.9L528.7 1844.4L532.1 1834.5L535.2 1826.0L538.3 1818.7L541.7 1811.4L544.8 1805.7L547.3 1801.8L549.7 1799.2L550.9 1798.3L552.0 1797.7L553.0 1797.5L554.0 1797.5L555.3 1798.0L556.6 1798.9L557.9 1800.3L559.2 1802.1L562.0 1807.0L564.9 1813.8L567.0 1819.9L569.2 1826.9L578.7 1862.1L581.7 1874.5L584.6 1887.9L595.2 1942.2L599.5 1962.3L604.7 1984.4L617.4 2035.4L623.1 2060.3L628.8 2088.4L634.0 2118.0L639.6 2154.3L645.1 2195.1L650.8 2243.9L656.4 2297.1L661.0 2344.3L665.8 2397.6L681.0 2578.8L687.0 2647.0L692.3 2703.8L695.9 2735.7L698.8 2755.9L702.1 2774.5L706.3 2793.9L710.6 2810.3L712.4 2816.2L714.4 2821.7L716.6 2826.9L719.0 2831.8L721.1 2835.6L723.1 2838.6L725.4 2841.4L727.9 2843.9L731.2 2846.4L734.8 2848.7L738.9 2850.6L743.3 2852.1L748.1 2853.4L753.5 2854.5L759.7 2855.3L767.5 2856.1L788.4 2857.9L809.6 2859.4L831.1 2860.7L853.2 2861.8L898.9 2863.2L947.9 2863.8L995.2 2863.7L1101.9 2862.6L1163.7 2862.6L1176.5 2862.4L1184.6 2861.9L1192.1 2861.1L1199.1 2860.1L1205.7 2858.7L1211.4 2857.1L1216.8 2855.3L1231.1 2849.2L1236.1 2847.4L1241.3 2846.0L1246.7 2845.3L1252.0 2845.1L1258.0 2845.4L1264.3 2846.1L1280.2 2848.5L1289.2 2849.6L1300.4 2850.4L1312.1 2850.8L1325.2 2850.6L1339.6 2849.9L1356.7 2848.5L1378.3 2846.4L1386.8 2845.3L1394.2 2844.1L1400.7 2842.7L1406.6 2841.0L1412.0 2839.1L1416.9 2836.8L1421.2 2834.3L1425.3 2831.4L1429.0 2828.2L1432.7 2824.5L1436.3 2820.3L1439.9 2815.6L1446.3 2805.9L1462.2 2779.5L1466.4 2773.3L1470.4 2768.3L1472.9 2765.7L1475.4 2763.5L1477.9 2761.6L1480.4 2760.2L1483.0 2759.0L1485.6 2758.2L1488.2 2757.8L1491.0 2757.7L1493.6 2757.9L1496.4 2758.4L1499.0 2759.1L1501.8 2760.1L1506.8 2762.8L1511.7 2766.4L1516.3 2770.8L1522.0 2777.0L1541.6 2801.2L1552.0 2813.3L1560.3 2822.3L1568.1 2830.1L1573.0 2834.6L1577.9 2838.7L1582.7 2842.5L1587.5 2845.9L1592.2 2848.9L1596.9 2851.6L1601.7 2854.0L1606.7 2856.3L1611.7 2858.2L1616.8 2859.9L1627.6 2862.8L1639.4 2865.0L1652.3 2866.5L1663.9 2867.3L1676.8 2867.7L1719.4 2867.6L1734.4 2867.8L1748.4 2868.6L1762.5 2870.1" fill="none" stroke="#38AE6C" stroke-width="6.9" stroke-linejoin="round"/>
<path d="M319.5 2590.3L327.2 2588.5L330.3 2587.5L334.1 2585.6L337.6 2583.1L340.9 2579.8L344.0 2575.8L347.2 2570.8L351.5 2563.3L356.4 2553.7L361.3 2543.4L366.0 2532.3L370.8 2520.4L376.0 2506.2L381.8 2489.4L387.4 2472.2L392.9 2454.7L401.7 2424.4L410.1 2392.9L418.2 2359.7L426.0 2324.7L432.5 2293.4L439.1 2259.5L461.5 2136.5L471.0 2086.6L476.7 2058.8L482.5 2032.2L488.4 2006.7L494.5 1982.0L503.6 1947.6L513.1 1914.6L523.0 1883.3L533.4 1853.2L536.6 1844.6L539.6 1837.4L542.8 1830.4L545.5 1825.3L547.9 1821.6L550.1 1819.1L552.2 1817.7L553.2 1817.5L554.1 1817.5L555.3 1818.0L556.6 1818.9L557.8 1820.3L559.1 1822.2L561.8 1827.3L564.6 1834.4L566.8 1840.8L569.1 1848.2L577.6 1878.1L581.3 1891.7L584.1 1903.4L586.9 1916.2L596.0 1962.5L600.1 1981.6L605.2 2002.7L617.6 2050.7L623.2 2074.5L628.6 2100.9L633.7 2129.0L639.4 2165.0L644.9 2206.0L651.0 2257.0L657.0 2312.4L661.6 2359.2L666.4 2412.1L682.1 2594.2L688.1 2661.8L692.4 2707.6L695.8 2736.5L698.7 2756.6L702.0 2774.6L706.5 2794.4L710.8 2810.9L712.7 2816.8L714.7 2822.2L717.0 2827.6L719.3 2832.4L721.3 2835.9L723.3 2838.9L725.6 2841.6L728.2 2844.1L731.5 2846.7L735.2 2848.9L739.3 2850.7L743.8 2852.3L748.7 2853.6L754.2 2854.6L760.4 2855.4L768.8 2856.3L789.6 2858.0L810.8 2859.5L832.3 2860.8L854.4 2861.8L900.0 2863.2L949.0 2863.8L995.7 2863.7L1101.6 2862.6L1163.7 2862.6L1176.5 2862.4L1184.6 2861.9L1192.1 2861.1L1199.1 2860.1L1205.7 2858.7L1211.4 2857.1L1216.8 2855.3L1231.1 2849.2L1236.1 2847.4L1241.3 2846.0L1246.7 2845.3L1252.0 2845.1L1258.0 2845.4L1264.3 2846.1L1280.2 2848.5L1289.2 2849.6L1300.4 2850.4L1312.1 2850.8L1325.3 2850.6L1339.8 2849.9L1356.9 2848.5L1378.4 2846.4L1386.9 2845.3L1394.2 2844.1L1400.7 2842.7L1406.6 2841.0L1412.0 2839.1L1416.9 2836.8L1421.2 2834.3L1425.3 2831.4L1429.0 2828.2L1432.7 2824.5L1436.3 2820.3L1439.9 2815.6L1446.3 2805.9L1462.2 2779.5L1466.4 2773.3L1470.4 2768.3L1472.9 2765.7L1475.4 2763.5L1477.9 2761.6L1480.4 2760.2L1483.0 2759.0L1485.6 2758.2L1488.2 2757.8L1491.0 2757.7L1493.6 2757.9L1496.4 2758.4L1499.0 2759.1L1501.8 2760.1L1506.8 2762.8L1511.7 2766.4L1516.3 2770.8L1522.0 2777.0L1541.6 2801.2L1552.0 2813.3L1560.3 2822.3L1568.1 2830.1L1573.0 2834.6L1577.9 2838.7L1582.7 2842.5L1587.5 2845.9L1592.2 2848.9L1596.9 2851.6L1601.7 2854.0L1606.7 2856.3L1611.7 2858.2L1616.8 2859.9L1627.6 2862.8L1639.4 2865.0L1652.3 2866.5L1663.9 2867.3L1676.8 2867.7L1719.4 2867.6L1734.4 2867.8L1748.4 2868.6L1762.5 2870.1" fill="none" stroke="#B078DE" stroke-width="6.9" stroke-linejoin="round"/>
</g>
<line x1="1576.4" y1="2348.0" x2="1761.3" y2="2348.0" stroke="#505050" stroke-width="6.9" stroke-linecap="round"/>
<text transform="translate(1784.3,2375.8) scale(1.0,1.02)" x="0" y="0" font-size="84.2" text-anchor="start" font-weight="normal" font-style="normal" fill="#000000" xml:space="preserve" >0  s</text>
<line x1="1576.4" y1="2449.7" x2="1761.3" y2="2449.7" stroke="#F04040" stroke-width="6.9" stroke-linecap="round"/>
<text transform="translate(1781.9,2477.5) scale(1.0,1.02)" x="0" y="0" font-size="84.2" text-anchor="start" font-weight="normal" font-style="normal" fill="#FF0000" xml:space="preserve" >20 s</text>
<line x1="1576.4" y1="2551.6" x2="1761.3" y2="2551.6" stroke="#1A70E0" stroke-width="6.9" stroke-linecap="round"/>
<text transform="translate(1781.9,2579.4) scale(1.0,1.02)" x="0" y="0" font-size="84.2" text-anchor="start" font-weight="normal" font-style="normal" fill="#1F3BFF" xml:space="preserve" >40 s</text>
<line x1="1576.4" y1="2653.0" x2="1761.3" y2="2653.0" stroke="#38AE6C" stroke-width="6.9" stroke-linecap="round"/>
<text transform="translate(1781.9,2680.8) scale(1.0,1.02)" x="0" y="0" font-size="84.2" text-anchor="start" font-weight="normal" font-style="normal" fill="#009200" xml:space="preserve" >60 s</text>
<line x1="1576.4" y1="2754.7" x2="1761.3" y2="2754.7" stroke="#B078DE" stroke-width="6.9" stroke-linecap="round"/>
<text transform="translate(1781.9,2782.5) scale(1.0,1.02)" x="0" y="0" font-size="84.2" text-anchor="start" font-weight="normal" font-style="normal" fill="#9C00CC" xml:space="preserve" >80 s</text>
<rect x="826.0" y="1662.9" width="4.0" height="564.7" fill="#000"/>
<rect x="826.0" y="2223.9" width="788.6" height="3.7" fill="#000"/>
<rect x="816.0" y="2191.1" width="12.0" height="3.6" fill="#000"/>
<text transform="translate(807.7,2204.5) scale(1.0,1.03)" x="0" y="0" font-size="35.5" text-anchor="end" font-weight="normal" font-style="normal" fill="#000" xml:space="preserve" >0</text>
<rect x="816.0" y="2009.9" width="12.0" height="3.6" fill="#000"/>
<text transform="translate(807.7,2023.3) scale(1.0,1.03)" x="0" y="0" font-size="35.5" text-anchor="end" font-weight="normal" font-style="normal" fill="#000" xml:space="preserve" >200</text>
<rect x="816.0" y="1828.8" width="12.0" height="3.6" fill="#000"/>
<text transform="translate(807.7,1842.2) scale(1.0,1.03)" x="0" y="0" font-size="35.5" text-anchor="end" font-weight="normal" font-style="normal" fill="#000" xml:space="preserve" >400</text>
<rect x="822.0" y="2100.5" width="6.0" height="3.6" fill="#000"/>
<rect x="822.0" y="1919.4" width="6.0" height="3.6" fill="#000"/>
<rect x="822.0" y="1738.2" width="6.0" height="3.6" fill="#000"/>
<rect x="880.4" y="2225.6" width="4.0" height="12.0" fill="#000"/>
<text transform="translate(882.4,2272.6) scale(1.0,1.03)" x="0" y="0" font-size="35.5" text-anchor="middle" font-weight="normal" font-style="normal" fill="#000" xml:space="preserve" >0</text>
<rect x="1049.7" y="2225.6" width="4.0" height="12.0" fill="#000"/>
<text transform="translate(1051.7,2272.6) scale(1.0,1.03)" x="0" y="0" font-size="35.5" text-anchor="middle" font-weight="normal" font-style="normal" fill="#000" xml:space="preserve" >20</text>
<rect x="1219.0" y="2225.6" width="4.0" height="12.0" fill="#000"/>
<text transform="translate(1221.0,2272.6) scale(1.0,1.03)" x="0" y="0" font-size="35.5" text-anchor="middle" font-weight="normal" font-style="normal" fill="#000" xml:space="preserve" >40</text>
<rect x="1388.3" y="2225.6" width="4.0" height="12.0" fill="#000"/>
<text transform="translate(1390.3,2272.6) scale(1.0,1.03)" x="0" y="0" font-size="35.5" text-anchor="middle" font-weight="normal" font-style="normal" fill="#000" xml:space="preserve" >60</text>
<rect x="1557.6" y="2225.6" width="4.0" height="12.0" fill="#000"/>
<text transform="translate(1559.6,2272.6) scale(1.0,1.03)" x="0" y="0" font-size="35.5" text-anchor="middle" font-weight="normal" font-style="normal" fill="#000" xml:space="preserve" >80</text>
<rect x="965.2" y="2225.6" width="3.6" height="6.4" fill="#000"/>
<rect x="1134.5" y="2225.6" width="3.6" height="6.4" fill="#000"/>
<rect x="1303.9" y="2225.6" width="3.6" height="6.4" fill="#000"/>
<rect x="1473.1" y="2225.6" width="3.6" height="6.4" fill="#000"/>
<circle cx="882.4" cy="2193.0" r="14.4" fill="none" stroke="#FF0000" stroke-width="7.8"/>
<circle cx="1051.7" cy="2060.6" r="14.4" fill="none" stroke="#FF0000" stroke-width="7.8"/>
<circle cx="1221.0" cy="1947.0" r="14.4" fill="none" stroke="#FF0000" stroke-width="7.8"/>
<circle cx="1390.3" cy="1814.6" r="14.4" fill="none" stroke="#FF0000" stroke-width="7.8"/>
<circle cx="1559.6" cy="1710.6" r="14.4" fill="none" stroke="#FF0000" stroke-width="7.8"/>
<line x1="882.5" y1="2188.0" x2="1559.8" y2="1702.7" stroke="#008000" stroke-width="4.3" stroke-linecap="square"/>
<text transform="translate(1085.1,2329.2) scale(1.055,1.0)" x="0" y="0" font-size="50.0" text-anchor="start" font-weight="normal" font-style="normal" fill="#000" xml:space="preserve" >Time, (s)</text>
<text x="1059.0" y="1687.1" font-size="66.3" text-anchor="start" font-weight="bold" font-style="normal" fill="#000" xml:space="preserve" >y = 6.68x</text>
<text x="1061.3" y="1792.6" font-size="66.3" font-weight="bold" fill="#000" xml:space="preserve">R<tspan font-size="44.4" dy="-32.8">2</tspan><tspan dy="32.8"> = 0.998</tspan></text>
<text transform="translate(715.0,2047.0) rotate(-90) scale(0.973,1)" x="0" y="0" font-size="60" fill="#000" xml:space="preserve">ln(A<tspan font-size="39.6" dy="16.2">0</tspan><tspan dy="-16.2">/A</tspan><tspan font-size="39.6" dy="16.2">t</tspan><tspan dy="-16.2">)</tspan></text>
<text x="704.0" y="3057.0" font-size="84.2" text-anchor="start" font-weight="normal" font-style="normal" fill="#000" xml:space="preserve" >Wavelength, nm</text>
<text transform="translate(127.8,2494.5) rotate(-90)" x="0" y="0" font-size="84.5" fill="#000">Absorbance</text>
<text x="11.5" y="3082.5" font-size="215" text-anchor="start" font-weight="normal" font-style="italic" fill="#000" xml:space="preserve" letter-spacing="-2.2" >(ii)</text>
<path d="M1431 722h3.5v1l-1 1.2h-3.3z" fill="#000"/>
</g>
</svg></body></html>
